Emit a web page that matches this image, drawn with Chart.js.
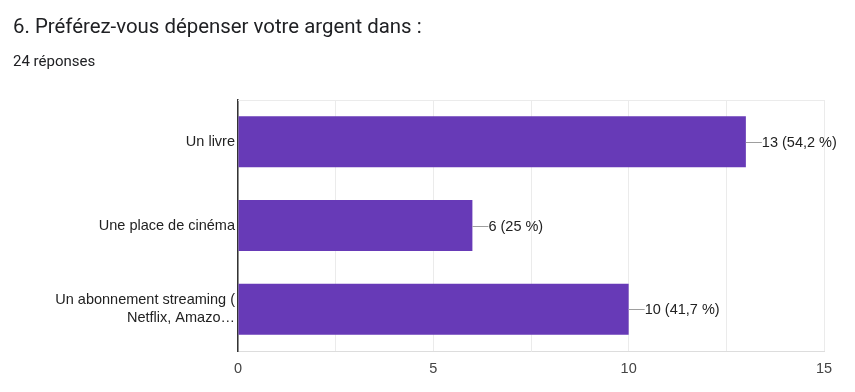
<!DOCTYPE html>
<html>
<head>
<meta charset="utf-8">
<script src="https://cdn.jsdelivr.net/npm/chart.js@4/dist/chart.umd.min.js"></script>
<style>
  html, body { margin: 0; padding: 0; background: #fff; }
  #wrap { position: relative; width: 855px; height: 392px; overflow: hidden; }
  #c { position: absolute; left: 0; top: 0; }
  .title { position: absolute; left: 13px; top: 14px; font-family: Roboto, "Open Sans", sans-serif; font-size: 20.4px; color: #202124; white-space: nowrap; }
  .sub { position: absolute; left: 13px; top: 52px; font-family: Roboto, sans-serif; font-size: 15px; color: #202124; white-space: nowrap; }
</style>
</head>
<body>
<div id="wrap">
  <canvas id="c" width="855" height="392"></canvas>
  <div class="title">6. Préférez-vous dépenser votre argent dans :</div>
  <div class="sub">24 réponses</div>
</div>
<script>
const categories = [
  "Un livre",
  "Une place de cinéma",
  ["Un abonnement streaming (", "Netflix, Amazo…"]
];
const counts = [13, 6, 10];
const totalResponses = 24;
const xTickValues = [0, 5, 10, 15];

const FONT = '"Liberation Sans", Arial, sans-serif';

const labelPlugin = {
  id: 'barLabels',
  afterDatasetsDraw(chart) {
    const ctx = chart.ctx;
    const meta = chart.getDatasetMeta(0);
    ctx.save();
    meta.data.forEach((bar, i) => {
      const v = counts[i];
      const pct = Math.round(v / totalResponses * 1000) / 10;
      const pctStr = String(pct).replace('.', ',');
      const txt = v + ' (' + pctStr + ' %)';
      ctx.strokeStyle = '#9e9e9e';
      ctx.lineWidth = 1;
      ctx.beginPath();
      ctx.moveTo(bar.x, Math.round(bar.y) + 0.5);
      ctx.lineTo(bar.x + 16, Math.round(bar.y) + 0.5);
      ctx.stroke();
      ctx.fillStyle = '#222';
      ctx.font = '14.5px ' + FONT;
      ctx.textBaseline = 'middle';
      ctx.textAlign = 'left';
      ctx.fillText(txt, bar.x + 16, bar.y + 1);
    });
    ctx.restore();
  },
  beforeDatasetsDraw(chart) {
    const a = chart.chartArea;
    const ctx = chart.ctx;
    ctx.save();
    ctx.strokeStyle = '#ebebeb';
    ctx.lineWidth = 1;
    ctx.beginPath();
    ctx.moveTo(a.left, a.top + 0.5);
    ctx.lineTo(a.right, a.top + 0.5);
    ctx.stroke();
    ctx.restore();
  }
};

new Chart(document.getElementById('c'), {
  type: 'bar',
  data: {
    labels: categories,
    datasets: [{
      data: counts,
      backgroundColor: '#673ab7',
      borderWidth: 0,
      barPercentage: 0.61,
      categoryPercentage: 1
    }]
  },
  options: {
    indexAxis: 'y',
    responsive: false,
    animation: false,
    devicePixelRatio: 1,
    layout: { padding: { left: 0, right: 31, top: 100, bottom: 0 } },
    plugins: { legend: { display: false }, tooltip: { enabled: false } },
    scales: {
      x: {
        min: 0, max: 15,
        afterFit(s) { s.height = 41; },
        afterBuildTicks(s) {
          const t = [];
          for (let v = 0; v <= 15; v += 2.5) t.push({ value: v });
          s.ticks = t;
        },
        ticks: {
          color: '#444',
          font: { family: FONT, size: 14.5 },
          padding: 9,
          autoSkip: false,
          maxRotation: 0,
          callback: (v) => xTickValues.includes(v) ? String(v) : ''
        },
        grid: { color: '#ebebeb', drawTicks: false, lineWidth: 1 },
        border: { display: true, color: '#dddddd', width: 1 }
      },
      y: {
        afterFit(s) { s.width = 238; },
        ticks: {
          color: '#222',
          font: { family: FONT, size: 14.5, lineHeight: 1.25 },
          padding: 3,
          autoSkip: false
        },
        grid: { display: false, drawTicks: false },
        border: { display: true, color: '#333333', width: 1.5 }
      }
    }
  },
  plugins: [labelPlugin]
});
</script>
</body>
</html>
